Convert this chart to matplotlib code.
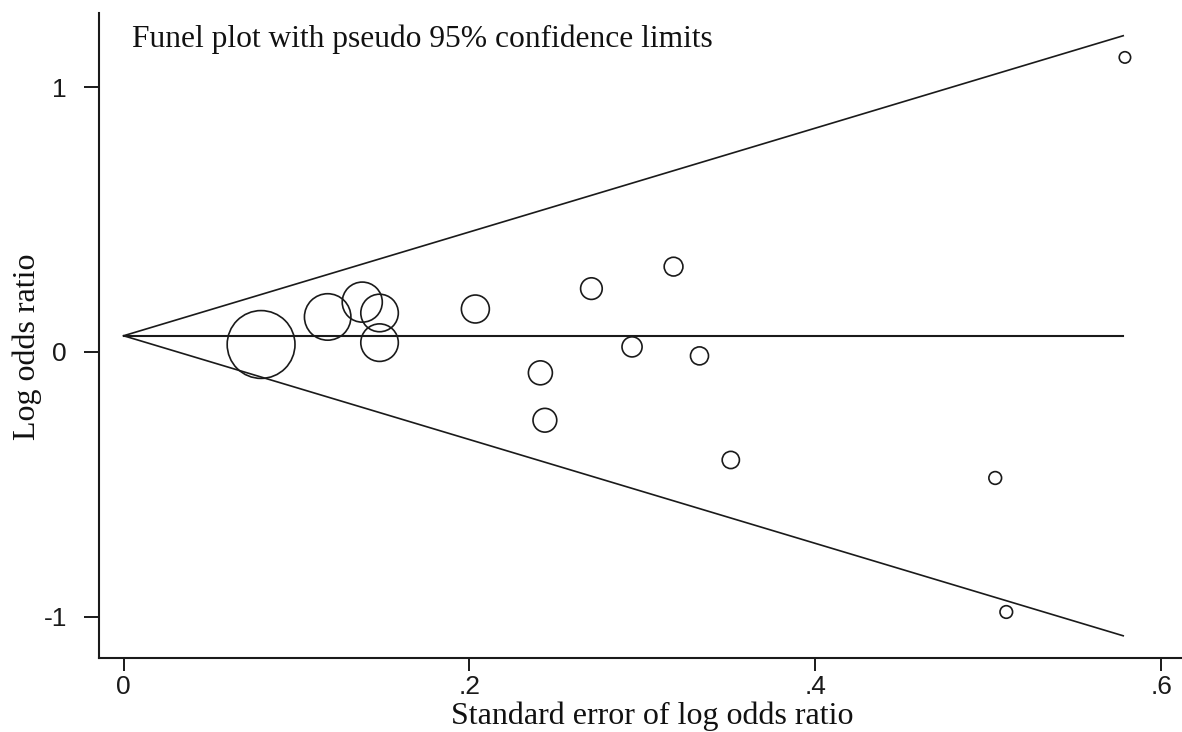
import numpy as np
import matplotlib
matplotlib.use("Agg")
import matplotlib.pyplot as plt
from matplotlib.ticker import FuncFormatter

# study estimates
se = [0.0795, 0.118, 0.138, 0.148, 0.148, 0.2034, 0.241, 0.2436,
      0.2705, 0.294, 0.318, 0.333, 0.3511, 0.504, 0.5104, 0.579]
log_or = [0.028, 0.132, 0.188, 0.147, 0.035, 0.162, -0.079, -0.258,
          0.239, 0.019, 0.322, -0.015, -0.408, -0.476, -0.982, 1.112]
pooled = 0.061
se_max = 0.578

x_ticks = [0, 0.2, 0.4, 0.6]
y_ticks = [-1, 0, 1]

se = np.array(se)
log_or = np.array(log_or)

fig = plt.figure(figsize=(11.82, 7.32), dpi=100)
ax = fig.add_axes([0.0835, 0.101, 0.9165, 0.881])

# pseudo 95% confidence limits
se_line = np.array([0, se_max])
ax.plot(se_line, pooled + 1.96 * se_line, color='#1a1a1a', lw=1.2)
ax.plot(se_line, pooled - 1.96 * se_line, color='#1a1a1a', lw=1.2)
ax.plot(se_line, [pooled, pooled], color='#1a1a1a', lw=1.5)

# marker area follows the weight 1/se^2
diam = 0.72 * 2 * (2.6 / se + 1.2)
ax.scatter(se, log_or, s=diam ** 2, facecolors='none', edgecolors='#1a1a1a',
           linewidths=1.2, zorder=3)

ax.set_xlim(-0.0144, 0.612)
ax.set_ylim(-1.156, 1.279)
ax.set_xticks(x_ticks)
ax.set_yticks(y_ticks)

def stata_fmt(v, pos):
  s = "%g" % round(v, 2)
  if s.startswith("0."):
    s = s[1:]
  return s

ax.xaxis.set_major_formatter(FuncFormatter(stata_fmt))
ax.yaxis.set_major_formatter(FuncFormatter(stata_fmt))

for side in ['top', 'right']:
  ax.spines[side].set_visible(False)
for side in ['left', 'bottom']:
  ax.spines[side].set_linewidth(1.5)
  ax.spines[side].set_color('#1a1a1a')

ax.tick_params(axis='y', direction='out', length=11, width=1.4, pad=12,
               labelsize=19, colors='#1a1a1a')
ax.tick_params(axis='x', direction='out', length=9, width=1.4, pad=3,
               labelsize=19, colors='#1a1a1a')
for lab in ax.get_xticklabels() + ax.get_yticklabels():
  lab.set_fontfamily('Liberation Sans')

ax.set_xlabel("Standard error of log odds ratio", family='Liberation Serif',
              fontsize=23, color='#111111')
ax.set_ylabel("Log odds ratio", family='Liberation Serif', fontsize=23,
              color='#111111')
ax.yaxis.set_label_coords(-0.052, 0.483)
ax.xaxis.set_label_coords(0.511, -0.068)

ax.text(0.0305, 0.947, "Funel plot with pseudo 95% confidence limits",
        transform=ax.transAxes, family='Liberation Serif', fontsize=22.7,
        color='#111111', va='baseline', ha='left')

fig.savefig('out.png', dpi=100)
